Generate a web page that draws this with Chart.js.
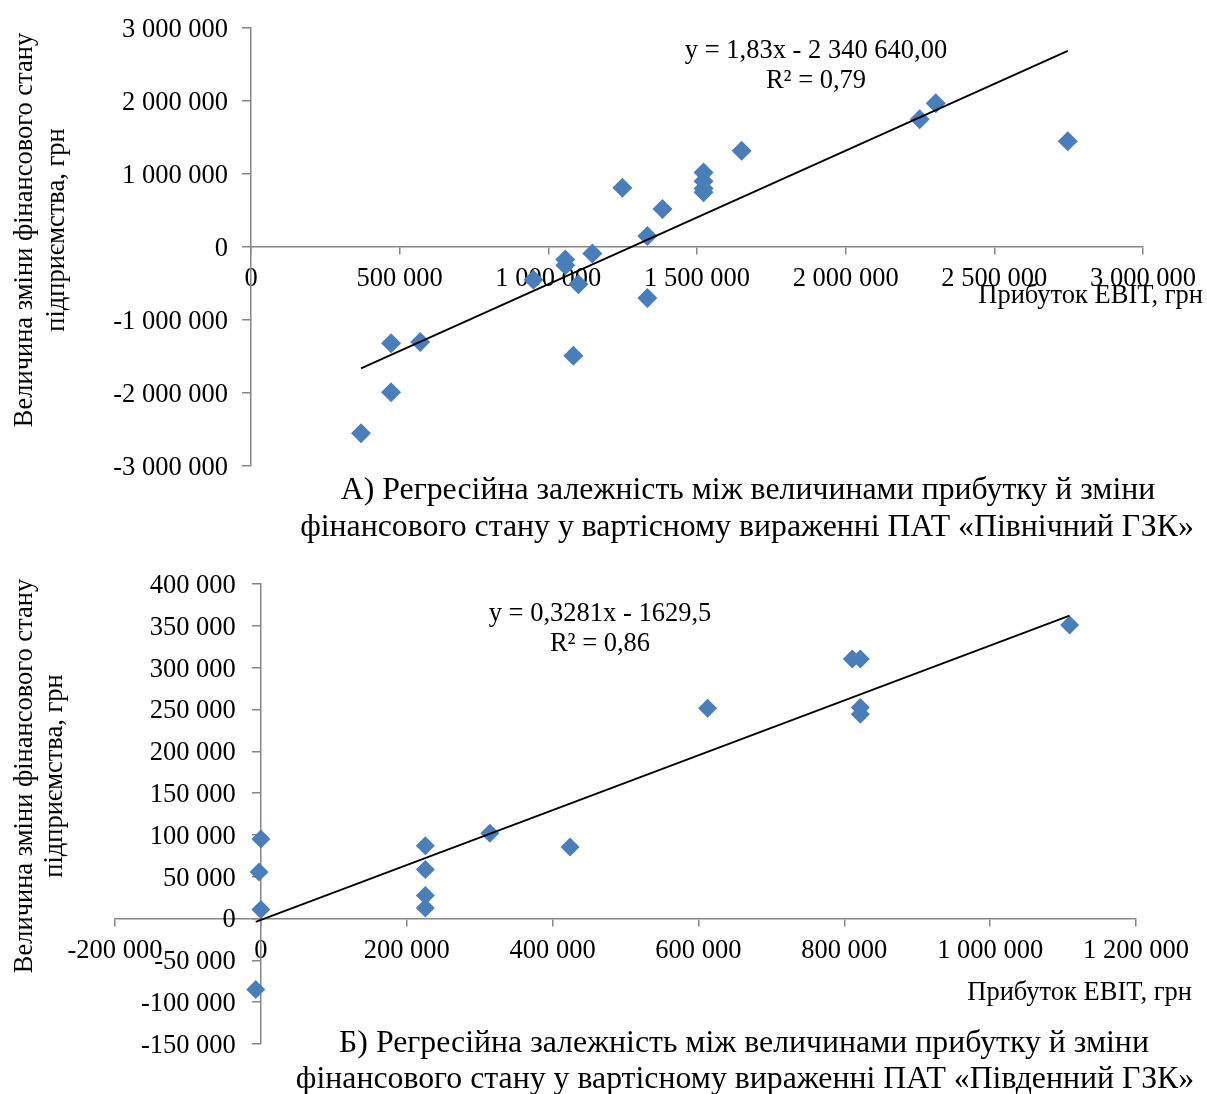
<!DOCTYPE html>
<html><head><meta charset="utf-8">
<script src="https://cdn.jsdelivr.net/npm/chart.js@4.4.1/dist/chart.umd.min.js"></script>
<style>
html,body{margin:0;padding:0;background:#fff;}
#wrap{position:relative;width:1207px;height:1094px;overflow:hidden;}
canvas{position:absolute;left:0;}
</style></head><body>
<div id="wrap">
<canvas id="c1" width="1207" height="548" style="top:0"></canvas>
<canvas id="c2" width="1207" height="546" style="top:548px"></canvas>
</div>
<script>
// ---------- Chart A: ПАТ «Північний ГЗК» ----------
const ebitA = [370000, 471000, 471000, 569000, 950000, 1057000, 1057000, 1084000, 1101000, 1148000, 1249000, 1333000, 1333000, 1384000, 1522000, 1522000, 1522000, 1522000, 1650000, 2249000, 2303000, 2747000];
const changeA = [-2550000, -1320000, -1990000, -1300000, -450000, -170000, -250000, -1490000, -510000, -90000, 810000, 150000, -700000, 520000, 1020000, 900000, 800000, 750000, 1320000, 1750000, 1970000, 1450000];
const xTicksA = [0, 500000, 1000000, 1500000, 2000000, 2500000, 3000000];
const yTicksA = [-3000000, -2000000, -1000000, 0, 1000000, 2000000, 3000000];
const slopeA = 1.83, interceptA = -2340640;
const eqA = ['y = 1,83x - 2 340 640,00', 'R² = 0,79'];
const captionA = ['А) Регресійна залежність між величинами прибутку й зміни', 'фінансового стану у вартісному вираженні ПАТ «Північний ГЗК»'];

// ---------- Chart Б: ПАТ «Південний ГЗК» ----------
const ebitB = [0, -2500, 0, -7000, 225500, 225500, 225500, 225500, 314000, 424000, 612600, 811000, 822000, 822000, 822000, 1109000];
const changeB = [95000, 55600, 10700, -84800, 87000, 58500, 27500, 12700, 102000, 85600, 251500, 310400, 310400, 252300, 244400, 351000];
const xTicksB = [-200000, 0, 200000, 400000, 600000, 800000, 1000000, 1200000];
const yTicksB = [-150000, -100000, -50000, 0, 50000, 100000, 150000, 200000, 250000, 300000, 350000, 400000];
const slopeB = 0.3281, interceptB = -1629.5;
const eqB = ['y = 0,3281x - 1629,5', 'R² = 0,86'];
const captionB = ['Б) Регресійна залежність між величинами прибутку й зміни', 'фінансового стану у вартісному вираженні ПАТ «Південний ГЗК»'];

const xTitle = 'Прибуток EBIT, грн';
const yTitle = ['Величина зміни фінансового стану', 'підприємства, грн'];

const FAM = '"Liberation Serif", "Times New Roman", serif';
const TICK = 26.5, CAP = 31.8;
const AXIS = '#868686';
const MARK = '#4a7ebb';

function fmt(v) {
  const s = Math.abs(Math.round(v)).toString().replace(/\B(?=(\d{3})+(?!\d))/g, ' ');
  return (v < 0 ? '-' : '') + s;
}

const textPlugin = {
  id: 'texts',
  afterDraw(chart, args, opts) {
    const ctx = chart.ctx;
    ctx.save();
    ctx.fillStyle = '#000';
    for (const t of opts.items) {
      ctx.font = t.size + 'px ' + FAM;
      ctx.textAlign = t.align || 'center';
      ctx.textBaseline = 'middle';
      if (t.rot) {
        ctx.save();
        ctx.translate(t.x, t.y);
        ctx.rotate(-Math.PI / 2);
        ctx.fillText(t.text, 0, 0);
        ctx.restore();
      } else {
        ctx.fillText(t.text, t.x, t.y);
      }
    }
    ctx.restore();
  }
};

function shiftLabels(scale, dx, dy) {
  if (scale._labelShiftPatched) return;
  const orig = scale._computeLabelItems;
  scale._computeLabelItems = function (ca) {
    const items = orig.call(this, ca);
    items.forEach(it => { it.options.translation[0] -= dx; it.options.translation[1] += dy; });
    return items;
  };
  scale._labelShiftPatched = true;
}

function makeChart(id, xs, ys, xTicks, yTicks, slope, intercept, pad, tk, items, radius) {
  const pts = xs.map((x, i) => ({x: x, y: ys[i]}));
  const minX = Math.min(...xs), maxX = Math.max(...xs);
  const trend = [{x: minX, y: slope * minX + intercept}, {x: maxX, y: slope * maxX + intercept}];
  const font = {family: FAM, size: TICK};
  return new Chart(document.getElementById(id), {
    type: 'scatter',
    data: {
      datasets: [
        {type: 'line', data: trend, borderColor: '#000', borderWidth: 1.8, pointRadius: 0, fill: false, order: 0},
        {type: 'scatter', data: pts, pointStyle: 'rectRot', pointRadius: radius, pointHoverRadius: radius,
         backgroundColor: MARK, borderColor: MARK, borderWidth: 0, order: 1}
      ]
    },
    options: {
      responsive: false, animation: false, devicePixelRatio: 1,
      layout: {padding: pad},
      plugins: {legend: {display: false}, tooltip: {enabled: false}, texts: {items: items}},
      scales: {
        x: {
          type: 'linear', min: xTicks[0], max: xTicks[xTicks.length - 1], position: {y: 0},
          afterBuildTicks: s => { s.ticks = xTicks.map(v => ({value: v})); },
          afterFit: s => { s.height = 0; },
          ticks: {callback: fmt, font: font, color: '#000', padding: tk.xp, maxRotation: 0, autoSkip: false},
          grid: {drawOnChartArea: false, drawTicks: true, tickLength: 7, color: AXIS, lineWidth: 1.5},
          border: {color: AXIS, width: 1.5}
        },
        y: {
          type: 'linear', min: yTicks[0], max: yTicks[yTicks.length - 1], position: {x: 0},
          afterBuildTicks: s => { s.ticks = yTicks.map(v => ({value: v})); },
          afterFit: s => { s.width = 0; shiftLabels(s, tk.yShift, 2); },
          ticks: {callback: fmt, font: font, color: '#000', padding: 0, autoSkip: false},
          grid: {drawOnChartArea: false, drawTicks: true, tickLength: 8, color: AXIS, lineWidth: 1.5},
          border: {color: AXIS, width: 1.5}
        }
      }
    },
    plugins: [textPlugin]
  });
}

makeChart('c1', ebitA, changeA, xTicksA, yTicksA, slopeA, interceptA,
  {left: 251, top: 28, right: 64, bottom: 82}, {xp: 9, yShift: 23},
  [
    {text: eqA[0], x: 816, y: 51, size: TICK},
    {text: eqA[1], x: 816, y: 81, size: TICK},
    {text: xTitle, x: 1203, y: 296, size: TICK, align: 'right'},
    {text: yTitle[0], x: 25, y: 230, size: TICK, rot: true},
    {text: yTitle[1], x: 57, y: 230, size: TICK, rot: true},
    {text: captionA[0], x: 748, y: 491, size: CAP},
    {text: captionA[1], x: 747, y: 528, size: CAP}
  ], 10);

makeChart('c2', ebitB, changeB, xTicksB, yTicksB, slopeB, interceptB,
  {left: 115, top: 36, right: 71, bottom: 50}, {xp: 10, yShift: 25},
  [
    {text: eqB[0], x: 600, y: 66, size: TICK},
    {text: eqB[1], x: 600, y: 96, size: TICK},
    {text: xTitle, x: 1192, y: 445, size: TICK, align: 'right'},
    {text: yTitle[0], x: 25, y: 228, size: TICK, rot: true},
    {text: yTitle[1], x: 55, y: 228, size: TICK, rot: true},
    {text: captionB[0], x: 744, y: 496, size: CAP},
    {text: captionB[1], x: 745, y: 532, size: CAP}
  ], 9.5);
</script>
</body></html>
